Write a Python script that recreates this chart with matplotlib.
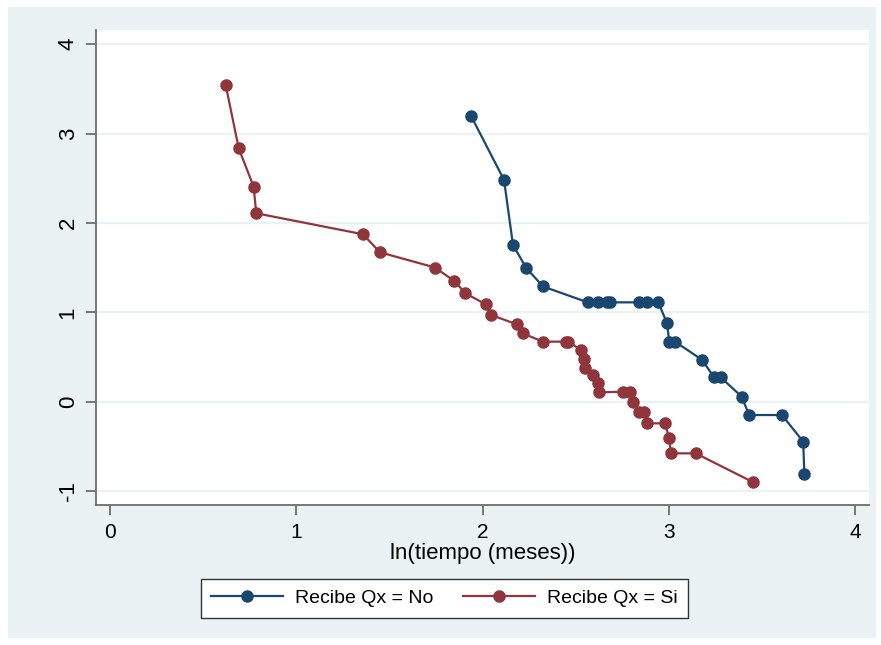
import matplotlib
matplotlib.use("Agg")
import matplotlib.pyplot as plt
from matplotlib.patches import Rectangle

plt.rcParams["font.family"] = ["Liberation Sans", "DejaVu Sans"]

# ln(-ln S(t)) against ln(t), by group
x_no = [1.938, 2.115, 2.163, 2.233, 2.324, 2.564, 2.618, 2.666, 2.684, 2.841,
        2.884, 2.943, 2.990, 3.002, 3.033, 3.179, 3.242, 3.278, 3.391, 3.430,
        3.607, 3.721, 3.727]
y_no = [3.198, 2.482, 1.755, 1.500, 1.290, 1.112, 1.112, 1.112, 1.112, 1.112,
        1.112, 1.112, 0.877, 0.672, 0.672, 0.467, 0.273, 0.273, 0.056, -0.149,
        -0.149, -0.448, -0.813]

x_si = [0.621, 0.691, 0.771, 0.785, 1.358, 1.449, 1.744, 1.848, 1.908, 2.017,
        2.047, 2.183, 2.215, 2.323, 2.445, 2.461, 2.528, 2.546, 2.551, 2.594,
        2.618, 2.626, 2.755, 2.791, 2.806, 2.841, 2.866, 2.881, 2.979, 3.001,
        3.011, 3.144, 3.453]
y_si = [3.545, 2.836, 2.406, 2.109, 1.874, 1.672, 1.502, 1.351, 1.213, 1.090,
        0.970, 0.866, 0.766, 0.672, 0.672, 0.672, 0.578, 0.475, 0.381, 0.299,
        0.206, 0.105, 0.112, 0.112, 0.000, -0.112, -0.112, -0.242, -0.242, -0.403,
        -0.578, -0.578, -0.902]

x_ticks = [0, 1, 2, 3, 4]
y_ticks = [-1, 0, 1, 2, 3, 4]
x_label = "ln(tiempo (meses))"
labels = ["Recibe Qx = No", "Recibe Qx = Si"]

BG = "#EAF2F3"
BLUE = "#1a476f"
RED = "#90353b"
AXC = "#6e6e6e"

W, H = 881, 645
fig = plt.figure(figsize=(W / 100, H / 100), dpi=100, facecolor="white")
fig.patches.append(Rectangle((8 / W, 1 - 638 / H), (876 - 8) / W, (638 - 7) / H,
                             transform=fig.transFigure, facecolor=BG,
                             edgecolor="none", zorder=-5))

ax = fig.add_axes([96 / W, 1 - 505 / H, (869 - 96) / W, (505 - 30) / H])
ax.set_zorder(1)
ax.set_facecolor("white")

ax.plot(x_no, y_no, color=BLUE, lw=1.6, marker="o", ms=8, label=labels[0], zorder=3)
ax.plot(x_si, y_si, color=RED, lw=1.6, marker="o", ms=8, label=labels[1], zorder=3)

ax.set_xlim(-0.0751, 4.074)
ax.set_ylim(-1.156, 4.160)
ax.set_xticks(x_ticks)
ax.set_yticks(y_ticks)
ax.set_yticklabels([str(v) for v in y_ticks], rotation=90, va="center")

ax.grid(axis="y", color=BG, lw=1.6, zorder=0)
ax.set_axisbelow(True)

for s in ["top", "right"]:
    ax.spines[s].set_visible(False)
for s in ["left", "bottom"]:
    ax.spines[s].set_color(AXC)
    ax.spines[s].set_linewidth(1.3)

ax.tick_params(axis="both", colors=AXC, length=7, width=1.3,
               labelcolor="black")
ax.tick_params(axis="x", pad=6, labelsize=15)
ax.tick_params(axis="y", pad=5.5, labelsize=16)

ax.set_xlabel(x_label, fontsize=16, labelpad=1)

leg = fig.legend(loc="center", bbox_to_anchor=(444.5 / W, 1 - 598 / H), ncol=2,
                 fontsize=14, frameon=True, fancybox=False, framealpha=1,
                 edgecolor="#333333", handlelength=3.7, handletextpad=0.6,
                 columnspacing=1.55, borderpad=0.55)
leg.get_frame().set_linewidth(1.0)

fig.savefig("out.png", dpi=100, facecolor=fig.get_facecolor())
